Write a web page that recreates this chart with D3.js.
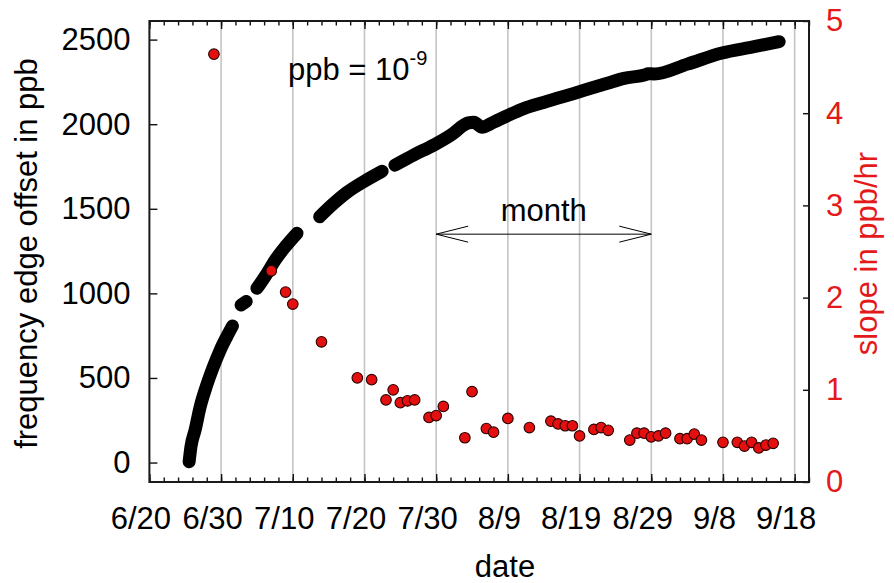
<!DOCTYPE html>
<html>
<head>
<meta charset="utf-8">
<script src="https://cdn.jsdelivr.net/npm/d3@7"></script>
<style>
  html, body { margin: 0; padding: 0; background: #fff; }
  svg { display: block; font-family: "Liberation Sans", Arial, sans-serif; }
</style>
</head>
<body>
<svg id="chart" width="894" height="583"></svg>
<script>
// Frequency edge offset (ppb) over the run; null entries mark gaps in logging.
const offsetTimes = [
  "6/25 13", "6/25 19", "6/26 09", "6/27 02", "6/28 00", "6/28 22", "6/29 21", "6/30 19", "7/1 14", null,
  "7/2 19", "7/3 12", null,
  "7/5 00", "7/6 04", "7/7 13", "7/8 23", "7/10 14", null,
  "7/13 18", "7/15 16", "7/17 13", "7/19 21", "7/22 11", null,
  "7/24 06", "7/26 21", "7/29 16", "8/1 11", "8/2 20", "8/3 12", "8/4 06", "8/5 10", "8/6 14", "8/8 22",
  "8/11 05", "8/13 13", "8/15 21", "8/18 05", "8/20 13", "8/22 21", "8/25 05", "8/28 05", "8/28 13",
  "8/29 10", "9/3 01", "9/7 17", "9/12 08", "9/15 20"
];
const offsetPpb = [
  5, 93, 192, 330, 458, 566, 665, 744, 807, null,
  931, 952, null,
  1030, 1102, 1197, 1276, 1355, null,
  1453, 1530, 1596, 1660, 1722, null,
  1758, 1818, 1877, 1948, 1995, 2008, 2012, 1982, 2003, 2050,
  2092, 2124, 2153, 2182, 2212, 2242, 2271, 2293, 2298,
  2297, 2355, 2419, 2458, 2488
];

// Drift slope (ppb/hr), right-hand axis.
const slopeDates = [
  "6/29", "7/7", "7/9", "7/10", "7/14", "7/19", "7/21", "7/23", "7/24", "7/25",
  "7/26", "7/27", "7/29", "7/30", "7/31", "8/3", "8/4", "8/6", "8/7", "8/9",
  "8/12", "8/15", "8/16", "8/17", "8/18", "8/19", "8/21", "8/22", "8/23", "8/26",
  "8/27", "8/28", "8/29", "8/30", "8/31", "9/2", "9/3", "9/4", "9/5", "9/8",
  "9/10", "9/11", "9/12", "9/13", "9/14", "9/15"
];
const slopeValues = [
  4.64, 2.29, 2.06, 1.93, 1.52, 1.13, 1.11, 0.89, 1.00, 0.86,
  0.88, 0.89, 0.70, 0.72, 0.82, 0.48, 0.98, 0.58, 0.54, 0.69,
  0.59, 0.66, 0.63, 0.61, 0.61, 0.50, 0.57, 0.59, 0.56, 0.455,
  0.53, 0.53, 0.49, 0.50, 0.53, 0.47, 0.47, 0.52, 0.455, 0.43,
  0.43, 0.39, 0.43, 0.37, 0.40, 0.42
];

const xTickLabels = ["6/20", "6/30", "7/10", "7/20", "7/30", "8/9", "8/19", "8/29", "9/8", "9/18"];
const xDomainLabels = ["6/20", "9/20"];
const leftTicks = [0, 500, 1000, 1500, 2000, 2500];
const rightTicks = [0, 1, 2, 3, 4, 5];
const monthSpan = ["7/30", "8/29"];

const YEAR = 2010;
const parseDay = d3.timeParse("%Y/%m/%d");
const parseHour = d3.timeParse("%Y/%m/%d %H");
const day = s => parseDay(`${YEAR}/${s}`);
const hour = s => parseHour(`${YEAR}/${s}`);

const plot = { left: 149.4, right: 809, top: 21, bottom: 482 };
const red = "#e3191a";

const svg = d3.select("#chart");

const x = d3.scaleTime().domain(xDomainLabels.map(day)).range([plot.left, plot.right]);
const yL = d3.scaleLinear().domain([-115, 2610]).range([plot.bottom, plot.top]);
const yR = d3.scaleLinear().domain([0, 5]).range([plot.bottom, plot.top]);

const majorDates = xTickLabels.map(day);
const minorDates = d3.range(0, 47).map(i => d3.timeDay.offset(day(xDomainLabels[0]), i * 2));
const labelOf = new Map(majorDates.map((d, i) => [+d, xTickLabels[i]]));

// vertical grid
svg.append("g").selectAll("line")
  .data(majorDates.slice(1))
  .join("line")
  .attr("x1", d => x(d)).attr("x2", d => x(d))
  .attr("y1", plot.top).attr("y2", plot.bottom)
  .attr("stroke", "#c4c4c4").attr("stroke-width", 1.6);

// frequency offset trace
const offsetData = offsetTimes.map((t, i) => t === null ? null : { t: hour(t), v: offsetPpb[i] });
const line = d3.line()
  .defined(d => d !== null)
  .x(d => x(d.t)).y(d => yL(d.v))
  .curve(d3.curveMonotoneX);
svg.append("path")
  .attr("d", line(offsetData))
  .attr("fill", "none").attr("stroke", "#000")
  .attr("stroke-width", 13)
  .attr("stroke-linecap", "round").attr("stroke-linejoin", "round");

// slope points
svg.append("g").selectAll("circle")
  .data(slopeDates.map((d, i) => ({ t: day(d), v: slopeValues[i] })))
  .join("circle")
  .attr("cx", d => x(d.t)).attr("cy", d => yR(d.v))
  .attr("r", 5.3)
  .attr("fill", "#e41010").attr("stroke", "#2a0000").attr("stroke-width", 1.1);

// axes
const fontSize = 31;
const intFmt = d3.format("d");
function styleAxis(g, color) {
  g.select(".domain").remove();
  g.selectAll(".tick line").attr("stroke", "#111").attr("stroke-width", 1.4);
  g.selectAll("text").attr("font-size", fontSize).attr("fill", color)
    .attr("font-family", "Liberation Sans, Arial, sans-serif");
}

const bottomMinorAxis = svg.append("g").attr("transform", `translate(0,${plot.bottom})`)
  .call(d3.axisBottom(x).tickValues(minorDates).tickSize(-4.5).tickFormat(""));
styleAxis(bottomMinorAxis, "#000");
const bottomMajorAxis = svg.append("g").attr("transform", `translate(0,${plot.bottom})`)
  .call(d3.axisBottom(x).tickValues(majorDates).tickSize(-8).tickPadding(25)
    .tickFormat(d => labelOf.get(+d)));
styleAxis(bottomMajorAxis, "#000");
bottomMajorAxis.selectAll("text").attr("dx", -9);

const topMinorAxis = svg.append("g").attr("transform", `translate(0,${plot.top})`)
  .call(d3.axisTop(x).tickValues(minorDates).tickSize(-4.5).tickFormat(""));
styleAxis(topMinorAxis, "#000");
const topMajorAxis = svg.append("g").attr("transform", `translate(0,${plot.top})`)
  .call(d3.axisTop(x).tickValues(majorDates).tickSize(-8).tickFormat(""));
styleAxis(topMajorAxis, "#000");

const leftAxis = svg.append("g").attr("transform", `translate(${plot.left},0)`)
  .call(d3.axisLeft(yL).tickValues(leftTicks).tickSize(-8).tickPadding(19).tickFormat(intFmt));
styleAxis(leftAxis, "#000");

const rightAxis = svg.append("g").attr("transform", `translate(${plot.right},0)`)
  .call(d3.axisRight(yR).tickValues(rightTicks).tickSize(-6).tickPadding(17).tickFormat(intFmt));
styleAxis(rightAxis, red);

// frame
svg.append("rect")
  .attr("x", plot.left).attr("y", plot.top)
  .attr("width", plot.right - plot.left).attr("height", plot.bottom - plot.top)
  .attr("fill", "none").attr("stroke", "#1a1a1a").attr("stroke-width", 2);

// axis titles
svg.append("text")
  .attr("x", 505).attr("y", 577)
  .attr("text-anchor", "middle").attr("font-size", fontSize).attr("fill", "#000")
  .text("date");
svg.append("text")
  .attr("transform", `translate(37,${(plot.top + plot.bottom) / 2 + 2}) rotate(-90)`)
  .attr("text-anchor", "middle").attr("font-size", fontSize).attr("fill", "#000")
  .text("frequency edge offset in ppb");
svg.append("text")
  .attr("transform", `translate(877,${(plot.top + plot.bottom) / 2 + 2}) rotate(-90)`)
  .attr("text-anchor", "middle").attr("font-size", fontSize).attr("fill", red)
  .text("slope in ppb/hr");

// annotations
const ppb = svg.append("text")
  .attr("x", 288).attr("y", 80)
  .attr("font-size", fontSize).attr("fill", "#000");
ppb.append("tspan").text("ppb = 10");
ppb.append("tspan").attr("dy", -15).attr("font-size", 20).text("-9");

const ax0 = x(day(monthSpan[0])), ax1 = x(day(monthSpan[1]));
const ay = yL(1350);
const arrow = svg.append("g").attr("stroke", "#000").attr("stroke-width", 1).attr("fill", "none");
arrow.append("line").attr("x1", ax0).attr("x2", ax1).attr("y1", ay).attr("y2", ay);
arrow.append("path").attr("d", `M${ax0 + 32},${ay - 8}L${ax0},${ay}L${ax0 + 32},${ay + 8}`);
arrow.append("path").attr("d", `M${ax1 - 32},${ay - 8}L${ax1},${ay}L${ax1 - 32},${ay + 8}`);
svg.append("text")
  .attr("x", (ax0 + ax1) / 2).attr("y", 221)
  .attr("text-anchor", "middle").attr("font-size", fontSize).attr("fill", "#000")
  .text("month");
</script>
</body>
</html>
